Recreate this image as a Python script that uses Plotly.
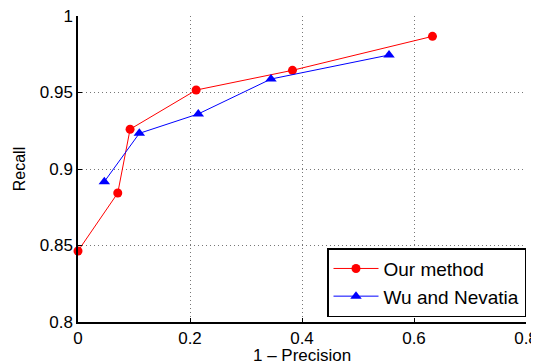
import plotly.graph_objects as go

our_x = [0.0, 0.071, 0.093, 0.211, 0.383, 0.633]
our_y = [0.8464, 0.8843, 0.926, 0.9516, 0.9645, 0.9867]
wu_x = [0.047, 0.1095, 0.2148, 0.3446, 0.5554]
wu_y = [0.8917, 0.9233, 0.936, 0.9588, 0.9745]

x_ticks = [0, 0.2, 0.4, 0.6, 0.8]
y_ticks = [0.8, 0.85, 0.9, 0.95, 1]
y_labels = ["0.8", "0.85", "0.9", "0.95", "1"]

fig = go.Figure()
fig.add_trace(go.Scatter(x=our_x, y=our_y, mode="lines+markers", name="Our method",
                         line=dict(color="#ff0000", width=1),
                         marker=dict(symbol="circle", size=9, color="#ff0000"),
                         cliponaxis=False))
fig.add_trace(go.Scatter(x=wu_x, y=wu_y, mode="lines+markers", name="Wu and Nevatia",
                         line=dict(color="#0000ff", width=1),
                         marker=dict(symbol="triangle-up", size=10, color="#0000ff"),
                         cliponaxis=False))

fam = "Liberation Sans, Arial, Helvetica, sans-serif"
font = dict(family=fam, size=17, color="black")
grid = dict(showgrid=True, gridcolor="#777777", griddash="1px,3px", gridwidth=1)
fig.update_layout(
    width=531, height=353,
    margin=dict(l=70, r=13, t=8, b=39),
    paper_bgcolor="white", plot_bgcolor="white",
    font=font,
    showlegend=True,
    legend=dict(x=1, y=0.016, xanchor="right", yanchor="bottom",
                bgcolor="white", bordercolor="black", borderwidth=1.5,
                font=dict(family=fam, size=19), tracegroupgap=0, itemwidth=45),
    xaxis=dict(range=[0, 0.8], tickvals=x_ticks, ticktext=[str(v) for v in x_ticks],
               showline=True, linecolor="black", linewidth=1.5,
               ticks="inside", ticklen=4, tickcolor="black",
               zeroline=False, automargin=False, ticklabeloverflow="allow",
               **grid),
    yaxis=dict(range=[0.8, 1], tickvals=y_ticks, ticktext=y_labels,
               showline=True, linecolor="black", linewidth=1.5,
               ticks="inside", ticklen=4, tickcolor="black",
               zeroline=False, automargin=False, ticklabeloverflow="allow",
               title=dict(text="Recall", standoff=10, font=dict(family=fam, size=16)),
               **grid),
    annotations=[dict(text="1 – Precision", xref="paper", yref="paper", x=0.5, y=0,
                      xanchor="center", yanchor="middle", yshift=-33, showarrow=False,
                      font=dict(family=fam, size=17))],
)
fig.write_html("out.html")
